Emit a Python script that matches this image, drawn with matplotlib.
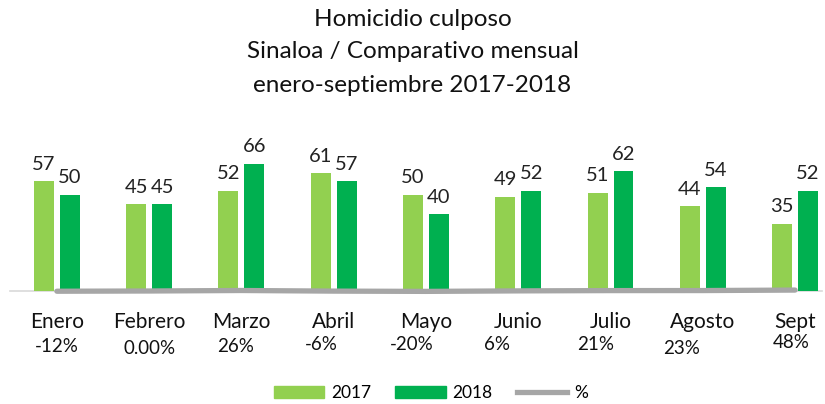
import matplotlib
matplotlib.use("Agg")
import matplotlib.pyplot as plt
from matplotlib.patches import Patch
from matplotlib.lines import Line2D
import numpy as np

plt.rcParams['font.family'] = ['Lato', 'DejaVu Sans']

months = ["Enero", "Febrero", "Marzo", "Abril", "Mayo", "Junio", "Julio", "Agosto", "Sept"]
v2017 = [57, 45, 52, 61, 50, 49, 51, 44, 35]
v2018 = [50, 45, 66, 57, 40, 52, 62, 54, 52]
pct = [-12, 0.0, 26, -6, -20, 6, 21, 23, 48]
pct_labels = ["-12%", "0.00%", "26%", "-6%", "-20%", "6%", "21%", "23%", "48%"]

C17 = "#92D050"
C18 = "#00B050"
CGR = "#A6A6A6"

W, H = 825, 404
fig = plt.figure(figsize=(W / 100, H / 100), dpi=100)
base_px = 291
top_px = 156
ax = fig.add_axes([10 / W, (H - base_px) / H, 812 / W, (base_px - top_px) / H])

spacing = 92.5
x = np.arange(len(months))
ax.set_xlim(-(57 - 10) / spacing, 8 + (822 - 795) / spacing)
ax.set_ylim(0, 70)

bw = 20 / spacing
off = 13 / spacing
b1 = ax.bar(x - off, v2017, bw, color=C17, zorder=2)
b2 = ax.bar(x + off, v2018, bw, color=C18, zorder=2)
for rects, vals in ((b1, v2017), (b2, v2018)):
    for r, v in zip(rects, vals):
        ax.annotate(str(v), (r.get_x() + r.get_width() / 2, v), xytext=(0, 6),
                    textcoords="offset points", ha="center", va="bottom",
                    fontsize=14.5, color="#222222")

ax.axhline(0, color="#D9D9D9", lw=1.2, zorder=1, clip_on=False)
ax.plot(x, np.array(pct) / 100.0, color=CGR, lw=3.8, solid_capstyle="round",
        zorder=3, clip_on=False)

for s in ax.spines.values():
    s.set_visible(False)
ax.set_xticks([])
ax.set_yticks([])

ph = base_px - top_px
pct_dx = [0, 0, -6, -12, -14, -21, -15, -21, -4]
pct_y = [346, 348, 347, 345, 345, 345, 345, 348, 343]
for i, m in enumerate(months):
    ax.text(i, (base_px - 322) / ph, m, transform=ax.get_xaxis_transform(),
            ha="center", va="center", fontsize=15, color="#111111")
    ax.text(i + pct_dx[i] / spacing, (base_px - pct_y[i]) / ph, pct_labels[i],
            transform=ax.get_xaxis_transform(), ha="center", va="center",
            fontsize=13.5, color="#111111")

fig.text(0.5, 1 - 20 / H, "Homicidio culposo", ha="center", va="center", fontsize=17.5, color="#111111")
fig.text(0.5, 1 - 52 / H, "Sinaloa / Comparativo mensual", ha="center", va="center", fontsize=17.5, color="#111111")
fig.text(0.5, 1 - 85 / H, "enero-septiembre 2017-2018", ha="center", va="center", fontsize=17.5, color="#111111")

handles = [Patch(color=C17, label="2017"), Patch(color=C18, label="2018"),
           Line2D([0], [0], color=CGR, lw=3.8, label="%")]
fig.legend(handles=handles, loc="center", bbox_to_anchor=(431 / W, 1 - 393 / H),
           ncol=3, frameon=False, fontsize=12.5, handlelength=2.9,
           handletextpad=0.4, columnspacing=1.4)

fig.savefig("out.png", dpi=100)
